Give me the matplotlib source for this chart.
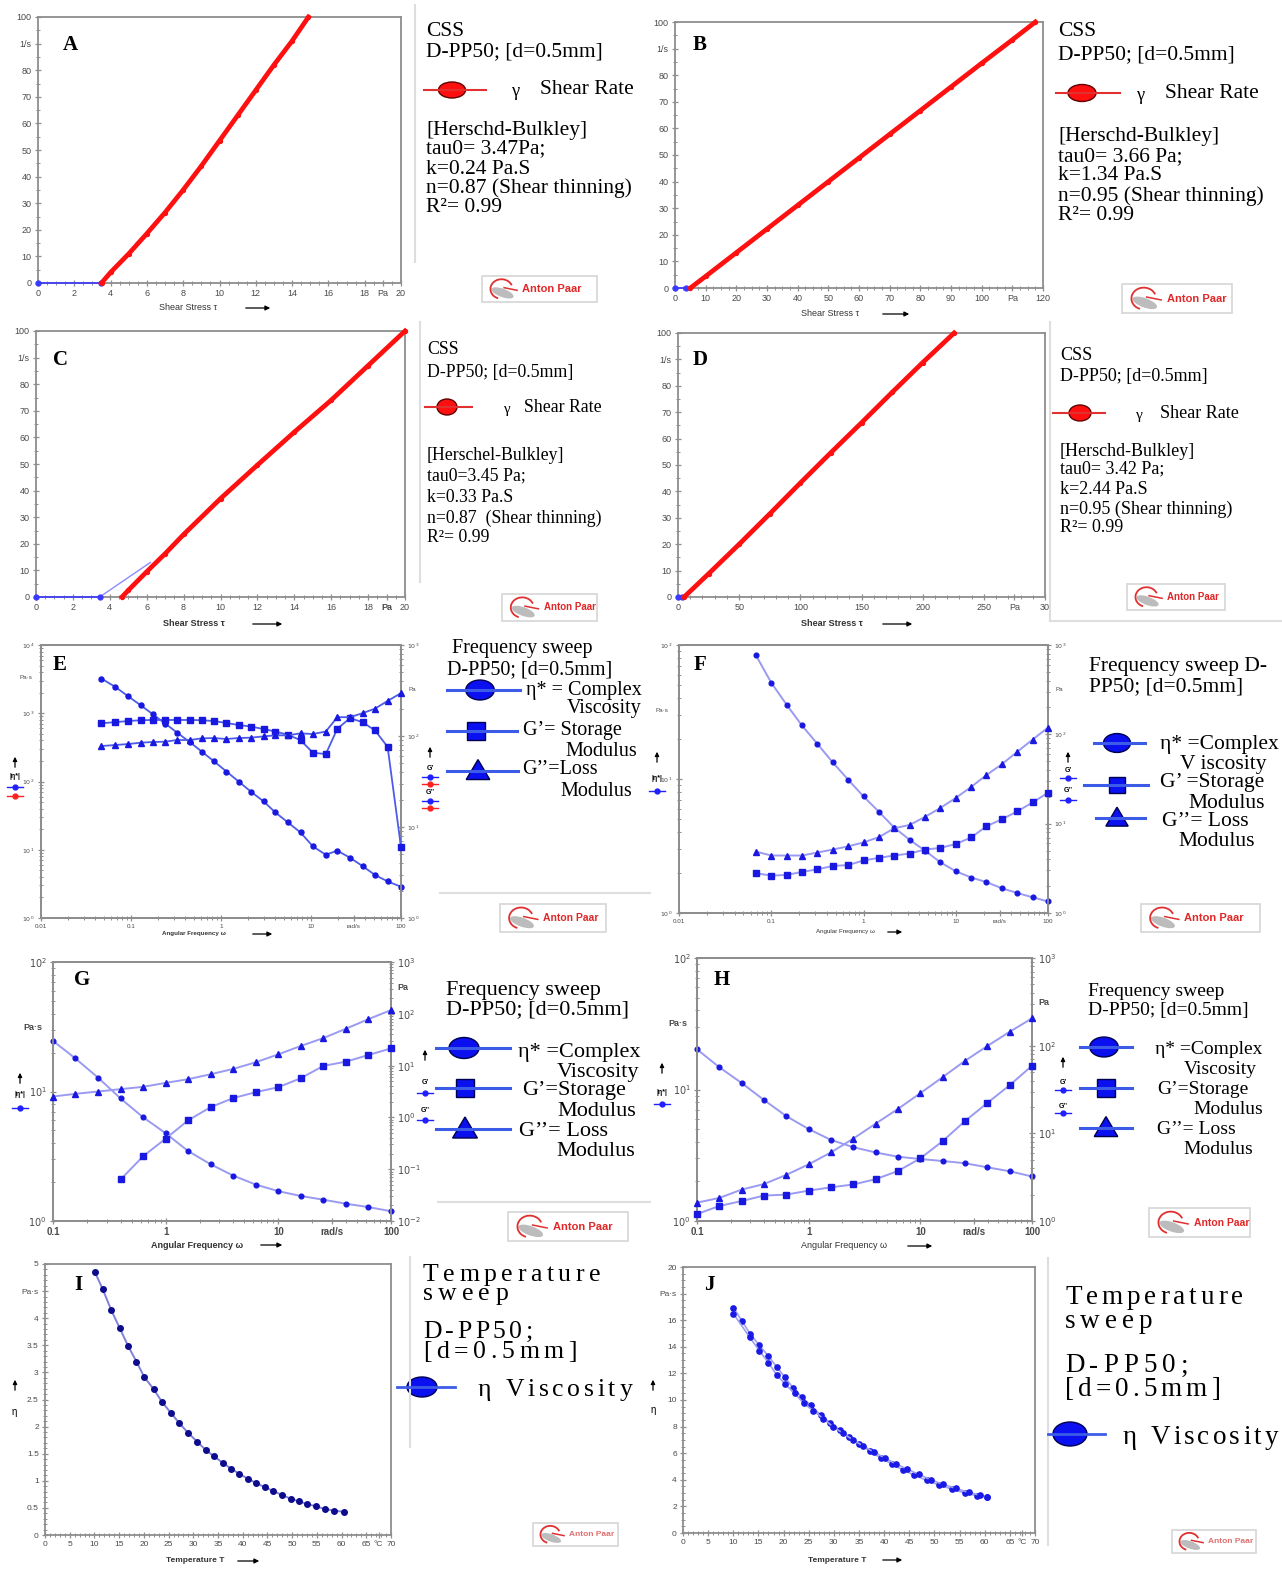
import matplotlib
matplotlib.use('Agg')
import matplotlib.pyplot as plt
from matplotlib.patches import Ellipse, Rectangle, Polygon, Arc
from matplotlib.font_manager import FontProperties
from matplotlib.ticker import MultipleLocator, NullFormatter, LogLocator

plt.rcParams['font.family'] = ['Liberation Sans', 'DejaVu Sans']

# ------------------------------------------------------------------ data
# Panel A (CSS)
a_blue_tau = [0, 3.47]
a_blue_rate = [0, 0]
a_red_tau = [3.5, 4, 5, 6, 7, 8, 9, 10, 11, 12, 13, 14, 14.9]
a_red_rate = [0, 4, 11, 18.6, 26.5, 35, 44, 53.5, 63, 72.5, 82, 91, 100]
# Panel B
b_blue_tau = [0, 3.66]
b_blue_rate = [0, 0]
b_red_tau = [5, 10, 20, 30, 40, 50, 60, 70, 80, 90, 100, 110, 117.5]
b_red_rate = [0, 4.4, 13.3, 22.2, 31.1, 40, 48.9, 57.8, 66.7, 75.6, 84.5, 93.3, 100]
# Panel C
c_blue_tau = [0, 3.45]
c_blue_rate = [0, 0]
c_fit_tau = [3.45, 6.2]
c_fit_rate = [0, 13]
c_red_tau = [4.66, 5, 6, 7, 8, 10, 12, 14, 16, 18, 20]
c_red_rate = [0, 2.5, 9.5, 16.3, 23.5, 37, 49.6, 62, 74, 87, 100]
# Panel D
d_blue_tau = [0, 3.42]
d_blue_rate = [0, 0]
d_red_tau = [5, 25, 50, 75, 100, 125, 150, 175, 200, 225.7]
d_red_rate = [0, 8.8, 20, 31.5, 43.2, 54.7, 66, 77.5, 88.8, 100]

# Panel E (frequency sweep)
e_omega = [0.047, 0.067, 0.093, 0.128, 0.175, 0.24, 0.325, 0.448, 0.61, 0.83, 1.15, 1.57,
           2.16, 2.98, 4.02, 5.55, 7.65, 10.5, 14.6, 19.6, 27.1, 37.4, 51.5, 71, 100]
e_eta = [3215, 2430, 1770, 1310, 967, 706, 521, 380, 275, 199, 140, 100, 70.6, 51, 35.2,
         25.1, 17.9, 11.2, 8.45, 9.7, 7.64, 5.77, 4.26, 3.44, 2.87]
e_gp = [138, 142, 146, 149, 150, 150, 150, 150, 149, 146, 139, 132, 127, 119, 112, 103, 90,
        65.5, 63.3, 120, 157, 142, 115, 76, 6.0]
e_gpp = [77.6, 79.6, 81.6, 84.4, 85.9, 86.6, 90.3, 90.3, 94.2, 95, 92.7, 95, 95.9, 99.1,
         101.7, 101.7, 107, 105, 112, 161, 161, 178, 200, 243, 296]

# Panel F
f_omega = [0.0681, 0.1, 0.147, 0.215, 0.316, 0.464, 0.681, 1, 1.47, 2.15, 3.16, 4.64, 6.81,
           10, 14.7, 21.5, 31.6, 46.4, 68.1, 100]
f_eta = [84, 52.3, 35.8, 25.1, 18.3, 13.3, 9.89, 7.41, 5.69, 4.34, 3.52, 2.92, 2.39, 2.05,
         1.84, 1.70, 1.53, 1.41, 1.31, 1.22]
f_gp = [2.79, 2.62, 2.67, 2.88, 3.08, 3.36, 3.44, 3.87, 4.15, 4.40, 4.63, 5.13, 5.35, 5.92,
        7.01, 9.35, 11.2, 13.7, 17.3, 22.2]
f_gpp = [4.87, 4.4, 4.4, 4.4, 4.75, 5.13, 5.57, 6.17, 7.06, 8.89, 9.67, 11.9, 15.0, 19.4,
         25.8, 35.0, 46.3, 63.8, 87.4, 119]

# Panel G
g_omega = [0.1, 0.158, 0.251, 0.398, 0.631, 1, 1.58, 2.51, 3.98, 6.31, 10, 15.8, 25.1, 39.8,
           63.1, 100]
g_eta = [24.6, 18.0, 12.8, 8.83, 6.32, 4.76, 3.47, 2.74, 2.24, 1.91, 1.70, 1.56, 1.46, 1.36,
         1.28, 1.19]
g_gpp = [2.53, 2.85, 3.16, 3.51, 3.89, 4.64, 5.46, 6.81, 8.63, 11.6, 16.5, 23.9, 34.0, 51.5,
         78.9, 118]
g_omega_gp = [0.398, 0.631, 1, 1.58, 2.51, 3.98, 6.31, 10, 15.8, 25.1, 39.8, 63.1, 100]
g_gp = [0.0633, 0.178, 0.389, 0.875, 1.58, 2.36, 3.07, 3.83, 5.7, 9.86, 11.9, 16.0, 21.5]

# Panel H
h_omega = [0.1, 0.158, 0.251, 0.398, 0.631, 1, 1.58, 2.51, 3.98, 6.31, 10, 15.8, 25.1, 39.8,
           63.1, 100]
h_eta = [20.2, 14.8, 11.2, 8.32, 6.27, 5.0, 4.14, 3.64, 3.32, 3.08, 2.96, 2.86, 2.75, 2.56,
         2.39, 2.18]
h_gpp = [1.62, 1.83, 2.28, 2.64, 3.36, 4.43, 6.05, 8.71, 12.9, 19.0, 28.7, 43.6, 67.1, 99.1,
         144, 205]
h_gp = [1.20, 1.48, 1.69, 1.95, 2.0, 2.22, 2.42, 2.61, 3.0, 3.72, 5.18, 8.12, 13.8, 22.2,
        35.4, 59.0]

# Panel I (temperature sweep)
i_temp = [10.1, 11.7, 13.4, 15.1, 16.8, 18.5, 20.1, 22.0, 23.7, 25.5, 27.2, 29.0, 30.8, 32.5,
          34.2, 36.0, 37.7, 39.3, 41.0, 42.7, 44.5, 46.2, 47.9, 49.7, 51.4, 53.1, 54.8, 56.6,
          58.4, 60.4]
i_eta = [4.85, 4.53, 4.15, 3.82, 3.49, 3.20, 2.91, 2.69, 2.45, 2.25, 2.06, 1.88, 1.72, 1.57,
         1.45, 1.33, 1.22, 1.13, 1.04, 0.96, 0.88, 0.81, 0.74, 0.67, 0.62, 0.57, 0.53, 0.48,
         0.45, 0.43]

# Panel J
j_temp1 = [10, 11.7, 13.3, 15.2, 17.0, 18.6, 20.3, 21.9, 23.7, 25.4, 27.4, 29.2, 31.2, 33.1,
           35.0, 37.2, 39.3, 41.5, 43.7, 46.0, 48.5, 51.0, 53.5, 56.0, 58.5, 60.5]
j_eta1 = [16.95, 15.96, 15.0, 14.1, 13.3, 12.5, 11.7, 10.9, 10.2, 9.6, 8.85, 8.3, 7.75, 7.2,
          6.7, 6.15, 5.65, 5.2, 4.75, 4.35, 3.95, 3.6, 3.3, 3.02, 2.8, 2.7]
j_temp2 = [10, 13.3, 15.2, 17.0, 18.6, 20.3, 22.2, 24.0, 25.9, 27.9, 29.8, 31.8, 33.8, 35.8,
           37.9, 40.1, 42.3, 44.6, 46.9, 49.3, 51.8, 54.3, 56.8, 59.0, 60.5]
j_eta2 = [16.5, 14.7, 13.7, 12.8, 11.9, 11.2, 10.5, 9.75, 9.2, 8.6, 8.0, 7.5, 7.0, 6.55, 6.1,
          5.65, 5.2, 4.8, 4.4, 4.0, 3.65, 3.35, 3.05, 2.85, 2.72]

# ------------------------------------------------------------------ figure
W, H = 1282, 1570
fig = plt.figure(figsize=(W / 100, H / 100), dpi=100)
fig.patch.set_facecolor('white')
renderer = fig.canvas.get_renderer()

GREY = '#8e8e8e'
TICKC = '#4a4a4a'
SERIF = 'Liberation Serif'


def rect(x0, y0, x1, y1):
    return [x0 / W, 1 - y1 / H, (x1 - x0) / W, (y1 - y0) / H]


def style(ax, fs):
    for s in ax.spines.values():
        s.set_color(GREY)
        s.set_linewidth(1.3)
    ax.tick_params(which='both', colors=GREY, labelcolor=TICKC, labelsize=fs,
                   direction='inout', pad=2)
    ax.tick_params(which='major', length=5, width=0.9)
    ax.tick_params(which='minor', length=3, width=0.7)


def lin_panel(px, xlim, ylim, xt, xl, yt, yl, xminor, yminor, fs):
    ax = fig.add_axes(rect(*px))
    ax.set_xlim(*xlim)
    ax.set_ylim(*ylim)
    ax.set_xticks(xt, xl)
    ax.set_yticks(yt, yl)
    ax.xaxis.set_minor_locator(MultipleLocator(xminor))
    ax.yaxis.set_minor_locator(MultipleLocator(yminor))
    style(ax, fs)
    return ax


def log_labels(lo, hi):
    return [10.0 ** k for k in range(lo, hi + 1)], [r'$10^{%d}$' % k for k in range(lo, hi + 1)]


def freq_panel(px, xlo, xhi, llo, lhi, rlo, rhi, fs, xlabels):
    ax = fig.add_axes(rect(*px))
    ax.set_xscale('log')
    ax.set_yscale('log')
    ax.set_xlim(10.0 ** xlo, 10.0 ** xhi)
    ax.set_ylim(10.0 ** llo, 10.0 ** lhi)
    ax2 = ax.twinx()
    ax2.set_yscale('log')
    ax2.set_ylim(10.0 ** rlo, 10.0 ** rhi)
    xt = [10.0 ** k for k in range(xlo, xhi + 1)]
    ax.set_xticks(xt[:-1] + [30, 100], xlabels)
    v, l = log_labels(llo, lhi)
    ax.set_yticks(v, l)
    v, l = log_labels(rlo, rhi)
    ax2.set_yticks(v, l)
    for a in (ax, ax2):
        a.yaxis.set_minor_locator(LogLocator(base=10, subs=range(2, 10), numticks=20))
        a.yaxis.set_minor_formatter(NullFormatter())
        style(a, fs)
    ax.xaxis.set_minor_locator(LogLocator(base=10, subs=range(2, 10), numticks=20))
    ax.xaxis.set_minor_formatter(NullFormatter())
    return ax, ax2


# ------------------------------------------------------------------ CSS panels
RED = '#ff1010'


def css_plot(ax, bt, br, rt, rr):
    ax.plot(bt, br, color='#3a3aff', lw=1.2, marker='o', ms=3.5, clip_on=False, zorder=3)
    ax.plot(rt, rr, color=RED, lw=3.4, marker='o', ms=2.8, clip_on=False, zorder=4)


yt_css = list(range(0, 101, 10))
yl_css = ['0', '10', '20', '30', '40', '50', '60', '70', '80', '1/s', '100']

axA = lin_panel((38, 17, 401, 283), (0, 20), (0, 100),
                list(range(0, 21, 2)) + [19],
                ['0', '2', '4', '6', '8', '10', '12', '14', '16', '18', '20', 'Pa'],
                yt_css, yl_css, 0.5, 5, 6.5)
css_plot(axA, a_blue_tau, a_blue_rate, a_red_tau, a_red_rate)

axB = lin_panel((675, 22, 1043, 288), (0, 120), (0, 100),
                list(range(0, 101, 10)) + [110, 120],
                ['0', '10', '20', '30', '40', '50', '60', '70', '80', '90', '100', 'Pa', '120'],
                yt_css, yl_css, 2.5, 5, 6.5)
css_plot(axB, b_blue_tau, b_blue_rate, b_red_tau, b_red_rate)

axC = lin_panel((36, 331, 405, 597), (0, 20), (0, 100),
                list(range(0, 21, 2)) + [19],
                ['0', '2', '4', '6', '8', '10', '12', '14', '16', '18', '20', 'Pa'],
                yt_css, yl_css, 0.5, 5, 6.5)
axC.plot(c_fit_tau, c_fit_rate, color='#8c8cff', lw=1.0, zorder=2)
css_plot(axC, c_blue_tau, c_blue_rate, c_red_tau, c_red_rate)
axC.get_xticklabels()[-1].set_fontweight('bold')

axD = lin_panel((678, 333, 1045, 597), (0, 300), (0, 100),
                [0, 50, 100, 150, 200, 250, 275, 300],
                ['0', '50', '100', '150', '200', '250', 'Pa', '30'],
                yt_css, yl_css, 10, 5, 6.5)
css_plot(axD, d_blue_tau, d_blue_rate, d_red_tau, d_red_rate)

# ------------------------------------------------------------------ frequency panels
LINE_E = '#4c5ce6'
LINE_F = '#9a9af2'
MK = '#1818e0'

axE, axE2 = freq_panel((41, 645, 401, 918), -2, 2, 0, 4, 0, 3, 4.5,
                       ['0.01', '0.1', '1', '10', 'rad/s', '100'])
axE.plot(e_omega, e_eta, color=LINE_E, lw=1.3, marker='o', ms=3.6, mfc=MK, mec=MK,
         clip_on=False, zorder=3)
axE2.plot(e_omega, e_gp, color=LINE_E, lw=1.3, marker='s', ms=4.5, mfc=MK, mec=MK,
          clip_on=False, zorder=3)
axE2.plot(e_omega, e_gpp, color=LINE_E, lw=1.3, marker='^', ms=4.2, mfc=MK, mec=MK,
          clip_on=False, zorder=3)
axE.text(-0.025, 0.88, 'Pa·s', transform=axE.transAxes, fontsize=4.5, color=TICKC,
         ha='right', va='center')
axE2.text(1.02, 0.837, 'Pa', transform=axE2.transAxes, fontsize=4.5, color=TICKC,
          ha='left', va='center')

axF, axF2 = freq_panel((679, 645, 1048, 913), -2, 2, 0, 2, 0, 3, 4.5,
                       ['0.01', '0.1', '1', '10', 'rad/s', '100'])
axF.plot(f_omega, f_eta, color=LINE_F, lw=1.4, marker='o', ms=3.4, mfc=MK, mec=MK,
         clip_on=False, zorder=3)
axF2.plot(f_omega, f_gp, color=LINE_F, lw=1.4, marker='s', ms=4.5, mfc=MK, mec=MK,
          clip_on=False, zorder=3)
axF2.plot(f_omega, f_gpp, color=LINE_F, lw=1.4, marker='^', ms=3.8, mfc=MK, mec=MK,
          clip_on=False, zorder=3)
axF.text(-0.03, 0.755, 'Pa·s', transform=axF.transAxes, fontsize=4.5, color=TICKC,
         ha='right', va='center')
axF2.text(1.02, 0.833, 'Pa', transform=axF2.transAxes, fontsize=4.5, color=TICKC,
          ha='left', va='center')

axG, axG2 = freq_panel((53, 962, 391, 1221), -1, 2, 0, 2, -2, 3, 7,
                       ['0.1', '1', '10', 'rad/s', '100'])
axG.plot(g_omega, g_eta, color=LINE_F, lw=1.4, marker='o', ms=3.4, mfc=MK, mec=MK,
         clip_on=False, zorder=3)
axG2.plot(g_omega_gp, g_gp, color=LINE_F, lw=1.4, marker='s', ms=4.5, mfc=MK, mec=MK,
          clip_on=False, zorder=3)
axG2.plot(g_omega, g_gpp, color=LINE_F, lw=1.4, marker='^', ms=3.8, mfc=MK, mec=MK,
          clip_on=False, zorder=3)
axG.text(-0.03, 0.748, 'Pa·s', transform=axG.transAxes, fontsize=6.5, color=TICKC,
         ha='right', va='center', weight='bold')
axG2.text(1.02, 0.90, 'Pa', transform=axG2.transAxes, fontsize=6.5, color=TICKC,
          ha='left', va='center', weight='bold')
for t in axG.get_xticklabels():
    t.set_fontweight('bold')

axH, axH2 = freq_panel((697, 958, 1032, 1221), -1, 2, 0, 2, 0, 3, 7,
                       ['0.1', '1', '10', 'rad/s', '100'])
axH.plot(h_omega, h_eta, color=LINE_F, lw=1.4, marker='o', ms=3.4, mfc=MK, mec=MK,
         clip_on=False, zorder=3)
axH2.plot(h_omega, h_gp, color=LINE_F, lw=1.4, marker='s', ms=4.5, mfc=MK, mec=MK,
          clip_on=False, zorder=3)
axH2.plot(h_omega, h_gpp, color=LINE_F, lw=1.4, marker='^', ms=3.8, mfc=MK, mec=MK,
          clip_on=False, zorder=3)
axH.text(-0.03, 0.75, 'Pa·s', transform=axH.transAxes, fontsize=6.5, color=TICKC,
         ha='right', va='center', weight='bold')
axH2.text(1.02, 0.83, 'Pa', transform=axH2.transAxes, fontsize=6.5, color=TICKC,
          ha='left', va='center', weight='bold')
for t in axH.get_xticklabels():
    t.set_fontweight('bold')

# ------------------------------------------------------------------ temperature panels
xt_T = list(range(0, 71, 5)) + [67.5]
xl_T = [str(v) for v in range(0, 66, 5)] + ['70', '°C']
axI = lin_panel((45, 1264, 391, 1535), (0, 70), (0, 5), xt_T, xl_T,
                [0, 0.5, 1, 1.5, 2, 2.5, 3, 3.5, 4, 4.5, 5],
                ['0', '0.5', '1', '1.5', '2', '2.5', '3', '3.5', '4', 'Pa·s', '5'],
                1, 0.1, 6)
axI.plot(i_temp, i_eta, color='#8080dd', lw=1.4, marker='o', ms=4, mfc='#0c0c8c',
         mec='#0c0c8c', zorder=3)

axJ = lin_panel((683, 1267, 1035, 1533), (0, 70), (0, 20), xt_T, xl_T,
                list(range(0, 21, 2)),
                ['0', '2', '4', '6', '8', '10', '12', '14', '16', 'Pa·s', '20'],
                1, 0.5, 6)
axJ.plot(j_temp1, j_eta1, color='#a0a0ee', lw=1.2, marker='o', ms=3.8, mfc='#1a1ae6',
         mec='#1a1ae6', zorder=3)
axJ.plot(j_temp2, j_eta2, color='#a0a0ee', lw=1.2, marker='o', ms=3.8, mfc='#1a1ae6',
         mec='#1a1ae6', zorder=3)

# ------------------------------------------------------------------ overlay (annotations)
ov = fig.add_axes([0, 0, 1, 1], zorder=20)
ov.set_xlim(0, W)
ov.set_ylim(H, 0)
ov.axis('off')
ov.patch.set_alpha(0)


def txt(x, y, s, size, ha='left', color='black', weight='normal', family=SERIF):
    ov.text(x, y, s, fontsize=size, ha=ha, va='center', color=color, weight=weight,
            family=family)


def ftext(x0, x1, y, s, size, color='black'):
    prop = FontProperties(family=SERIF, size=size)
    widths = []
    for ch in s:
        if ch == ' ':
            widths.append(0.25 * size * 100 / 72)
        else:
            w, _, _ = renderer.get_text_width_height_descent(ch, prop, ismath=False)
            widths.append(w)
    track = (x1 - x0 - sum(widths)) / max(len(s) - 1, 1)
    cx = x0
    for ch, w in zip(s, widths):
        if ch != ' ':
            ov.text(cx, y, ch, fontproperties=prop, ha='left', va='center', color=color)
        cx += w + track


def arrow_h(x0, x1, y):
    ov.annotate('', xy=(x1, y), xytext=(x0, y),
                arrowprops=dict(arrowstyle='-|>', color='black', lw=0.9, mutation_scale=7))


def arrow_v(x, y):
    ov.annotate('', xy=(x, y - 8), xytext=(x, y + 8),
                arrowprops=dict(arrowstyle='-|>', color='black', lw=0.9, mutation_scale=6))


def logo(x0, y0, x1, y1, fs, tcol='#e02828'):
    h = y1 - y0
    ov.add_patch(Rectangle((x0, y0), x1 - x0, h, fc='white', ec='#d6d6d6', lw=1.2))
    cx, cy = x0 + 0.75 * h, y0 + h / 2
    ov.add_patch(Ellipse((cx + 1, cy + 0.15 * h), 0.9 * h, 0.32 * h, angle=20,
                         fc='#bcbcbc', ec='none'))
    ov.add_patch(Arc((cx, cy), 0.85 * h, 0.75 * h, theta1=110, theta2=340, color='#e03030',
                     lw=1.3))
    ov.plot([cx + 0.1 * h, cx + 0.6 * h], [cy - 0.05 * h, cy + 0.05 * h], color='#e03030',
            lw=1.1)
    ov.text(x0 + 1.55 * h, cy, 'Anton Paar', color=tcol, fontsize=fs, weight='bold',
            va='center', ha='left', family='Liberation Sans')


def sep(x0, y0, x1, y1):
    ov.plot([x0, x1], [y0, y1], color='#dedede', lw=1.5)


# panel letters
for L, x, y in [('A', 70, 45), ('B', 700, 45), ('C', 60, 360), ('D', 700, 360),
                ('E', 60, 665), ('F', 700, 665), ('G', 82, 980), ('H', 722, 980),
                ('I', 78, 1285), ('J', 709, 1285)]:
    txt(x, y, L, 15, ha='center', weight='bold')

# separators
sep(415, 5, 415, 262)
sep(420, 322, 420, 582)
sep(1050, 322, 1050, 621)
sep(1050, 621, 1282, 621)
sep(440, 893, 650, 893)
sep(438, 1202, 650, 1202)
sep(410, 1257, 410, 1447)
sep(1048, 1258, 1048, 1545)

# x labels
for (s, xc, y, x0, x1, fs, wt) in [
        ('Shear Stress τ', 188, 308, 243, 273, 6.5, 'normal'),
        ('Shear Stress τ', 830, 314, 880, 912, 6.5, 'normal'),
        ('Shear Stress τ', 194, 624, 250, 285, 6.5, 'bold'),
        ('Shear Stress τ', 832, 624, 880, 915, 6.5, 'bold'),
        ('Angular Frequency ω', 194, 934, 250, 275, 4.5, 'bold'),
        ('Angular Frequency ω', 845, 932, 885, 905, 4.5, 'normal'),
        ('Angular Frequency ω', 197, 1245, 258, 285, 6.5, 'bold'),
        ('Angular Frequency ω', 844, 1246, 905, 935, 6.5, 'normal'),
        ('Temperature T', 195, 1561, 235, 262, 6, 'bold'),
        ('Temperature T', 837, 1560, 880, 905, 6, 'bold')]:
    txt(xc, y, s, fs, ha='center', color='#333333', weight=wt, family='Liberation Sans')
    arrow_h(x0, x1, y)


# CSS legends
def css_legend(x, ys, lines, size, mark, gx, sx, ey):
    for s, y in zip(lines, ys):
        txt(x, y, s, size)
    x0, x1, xc, y = mark
    ov.plot([x0, x1], [y, y], color='#e03030', lw=1.5)
    ov.add_patch(Ellipse((xc, y), ey[0], ey[1], fc='#ff1010', ec='#600000', lw=1.0))
    txt(gx, y + 2, 'γ', size * 0.85)
    txt(sx, y, 'Shear Rate', size)


css_legend(426, [31, 52, 130, 149, 169, 188, 207],
           ['CSS', 'D-PP50; [d=0.5mm]', '[Herschd-Bulkley]', 'tau0= 3.47Pa;', 'k=0.24 Pa.S',
            'n=0.87 (Shear thinning)', 'R²= 0.99'], 15.5, (424, 486, 452, 90), 512, 540,
           (27, 16))
css_legend(1058, [32, 55, 136, 157, 176, 196, 215],
           ['CSS', 'D-PP50; [d=0.5mm]', '[Herschd-Bulkley]', 'tau0= 3.66 Pa;', 'k=1.34 Pa.S',
            'n=0.95 (Shear thinning)', 'R²= 0.99'], 15.5, (1056, 1120, 1082, 93), 1137, 1165,
           (28, 17))
css_legend(427, [349, 372, 455, 476, 497, 518, 538],
           ['CSS', 'D-PP50; [d=0.5mm]', '[Herschel-Bulkley]', 'tau0=3.45 Pa;', 'k=0.33 Pa.S',
            'n=0.87  (Shear thinning)', 'R²= 0.99'], 12.8, (425, 472, 447, 407), 503, 524,
           (20, 16))
css_legend(1060, [355, 377, 451, 469, 490, 509, 527],
           ['CSS', 'D-PP50; [d=0.5mm]', '[Herschd-Bulkley]', 'tau0= 3.42 Pa;', 'k=2.44 Pa.S',
            'n=0.95 (Shear thinning)', 'R²= 0.99'], 13, (1053, 1105, 1080, 413), 1136, 1160,
           (22, 16))

# frequency legends
GLC = '#3c5ce8'
GFC = '#0a10f0'


def glyph(kind, x0, x1, xc, y, s):
    ov.plot([x0, x1], [y, y], color=GLC, lw=2.2)
    if kind == 'o':
        ov.add_patch(Ellipse((xc, y), 1.5 * s, 1.05 * s, fc=GFC, ec='#000050', lw=1.0))
    elif kind == 's':
        ov.add_patch(Rectangle((xc - s * 0.47, y - s * 0.47), 0.94 * s, 0.94 * s, fc=GFC,
                               ec='#000050', lw=1.0))
    else:
        ov.add_patch(Polygon([(xc - 0.62 * s, y + 0.45 * s), (xc + 0.62 * s, y + 0.45 * s),
                              (xc, y - 0.6 * s)], closed=True, fc=GFC, ec='#000050', lw=1.0))


def freq_legend(items, size, glyphs, s):
    for t, x, y in items:
        txt(x, y, t, size)
    for kind, x0, x1, xc, y in glyphs:
        glyph(kind, x0, x1, xc, y, s)


freq_legend([('Frequency sweep', 452, 649), ('D-PP50; [d=0.5mm]', 447, 670),
             ('η* = Complex', 526, 690), ('Viscosity', 567, 709),
             ('G’= Storage', 523, 731), ('Modulus', 565, 751),
             ('G’’=Loss', 522, 769), ('Modulus', 560, 791)], 14.5,
            [('o', 447, 520, 480, 690), ('s', 447, 517, 476, 731), ('^', 447, 518, 478, 771)],
            19)
freq_legend([('Frequency sweep D-', 1089, 667), ('PP50; [d=0.5mm]', 1089, 687),
             ('η* =Complex', 1160, 745), ('V iscosity', 1180, 765),
             ('G’ =Storage', 1160, 783), ('Modulus', 1188, 803),
             ('G’’= Loss', 1162, 822), ('Modulus', 1178, 842)], 15.5,
            [('o', 1094, 1145, 1117, 743), ('s', 1084, 1148, 1117, 785),
             ('^', 1096, 1145, 1117, 818)], 18)
freq_legend([('Frequency sweep', 446, 990), ('D-PP50; [d=0.5mm]', 446, 1010),
             ('η* =Complex', 518, 1052), ('Viscosity', 557, 1072),
             ('G’=Storage', 522, 1091), ('Modulus', 557, 1112),
             ('G’’= Loss', 519, 1132), ('Modulus', 556, 1152)], 16,
            [('o', 436, 510, 464, 1048), ('s', 436, 510, 465, 1088),
             ('^', 436, 510, 465, 1129)], 20)
freq_legend([('Frequency sweep', 1088, 991), ('D-PP50; [d=0.5mm]', 1088, 1010),
             ('η* =Complex', 1155, 1050), ('Viscosity', 1184, 1070),
             ('G’=Storage', 1157, 1089), ('Modulus', 1193, 1110),
             ('G’’= Loss', 1157, 1130), ('Modulus', 1183, 1150)], 14,
            [('o', 1080, 1132, 1104, 1047), ('s', 1080, 1132, 1106, 1088),
             ('^', 1080, 1132, 1106, 1128)], 19)


# small axis-side labels with glyphs
def mini_glyph(x, y, color, kind='o'):
    ov.plot([x - 8, x + 8], [y, y], color=color, lw=1.0)
    ov.plot([x], [y], marker=kind, ms=3.5, color=color)


def side_label(x, ya, items):
    arrow_v(x, ya)
    for kind, y, s in items:
        if kind == 'text':
            txt(x, y, s, 5, ha='center', family='Liberation Sans', weight='bold')
        else:
            mini_glyph(x, y, s)


side_label(15, 762, [('text', 777, '|η*|'), ('g', 787, '#2020ff'), ('g', 796, '#ff2020')])
side_label(430, 752, [('text', 768, 'G’'), ('g', 777, '#2020ff'), ('g', 784, '#ff2020'),
                      ('text', 793, 'G’’'), ('g', 801, '#2020ff'), ('g', 808, '#ff2020')])
side_label(657, 757, [('text', 779, '|η*|'), ('g', 791, '#2020ff')])
side_label(1068, 757, [('text', 770, 'G’'), ('g', 778, '#2020ff'), ('text', 790, 'G’’'),
                       ('g', 800, '#2020ff')])
side_label(20, 1078, [('text', 1095, '|η*|'), ('g', 1108, '#2020ff')])
side_label(425, 1055, [('text', 1083, 'G’'), ('g', 1093, '#2020ff'), ('text', 1110, 'G’’'),
                       ('g', 1120, '#2020ff')])
side_label(662, 1068, [('text', 1093, '|η*|'), ('g', 1104, '#2020ff')])
side_label(1063, 1062, [('text', 1082, 'G’'), ('g', 1090, '#2020ff'), ('text', 1106, 'G’’'),
                        ('g', 1113, '#2020ff')])
arrow_v(15, 1385)
txt(14, 1412, 'η', 7, ha='center', family='Liberation Sans')
arrow_v(653, 1385)
txt(653, 1410, 'η', 7, ha='center', family='Liberation Sans')

# temperature legends
for s, x0, x1, y in [('Temperature', 423, 600, 1275), ('sweep', 423, 508, 1294),
                     ('D-PP50;', 423, 533, 1332), ('[d=0.5mm]', 423, 577, 1352),
                     ('η Viscosity', 478, 632, 1390)]:
    ftext(x0, x1, y, s, 18.5)
ov.plot([397, 455], [1387, 1387], color=GLC, lw=2.0)
ov.add_patch(Ellipse((422, 1387), 30, 20, fc=GFC, ec='#000050', lw=1.0))

for s, x0, x1, y in [('Temperature', 1065, 1243, 1298), ('sweep', 1065, 1152, 1322),
                     ('D-PP50;', 1065, 1188, 1366), ('[d=0.5mm]', 1065, 1220, 1390),
                     ('η Viscosity', 1123, 1278, 1438)]:
    ftext(x0, x1, y, s, 19.5)
ov.plot([1048, 1105], [1434, 1434], color=GLC, lw=2.0)
ov.add_patch(Ellipse((1070, 1434), 34, 24, fc=GFC, ec='#000050', lw=1.0))

# Anton Paar logos
logo(482, 276, 597, 302, 8)
logo(1122, 284, 1232, 313, 8)
logo(502, 594, 597, 621, 7)
logo(1127, 584, 1225, 610, 7)
logo(500, 904, 606, 932, 7.5)
logo(1141, 904, 1260, 932, 8)
logo(508, 1212, 628, 1241, 8)
logo(1149, 1208, 1250, 1237, 7.5)
logo(533, 1523, 618, 1546, 6, tcol='#e07070')
logo(1172, 1530, 1256, 1553, 6, tcol='#e07070')

fig.savefig('out.png', dpi=100, facecolor='white')
